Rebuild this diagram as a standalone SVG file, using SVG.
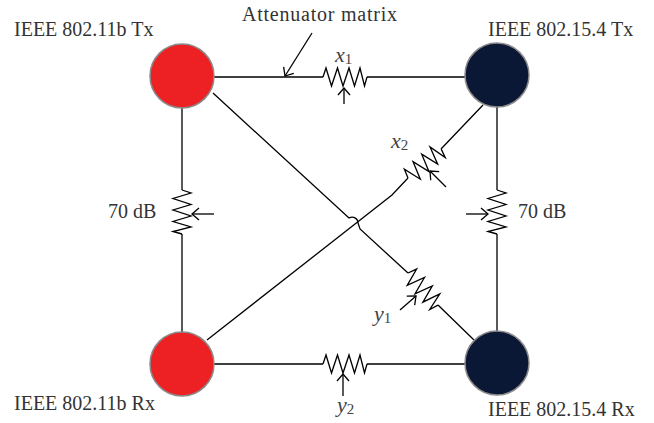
<svg xmlns="http://www.w3.org/2000/svg" xmlns:xlink="http://www.w3.org/1999/xlink" width="654" height="423" viewBox="0 0 654 423">
<style>
.lbl{font-family:"Liberation Serif","Times New Roman",serif;font-size:20px;fill:#333}
.var{font-family:"Liberation Serif","Times New Roman",serif;font-size:22px;fill:#444;font-style:italic}
.sub{font-style:normal;font-size:15px}
.w{fill:none;stroke:#000;stroke-width:1.3;stroke-linejoin:miter}
.ar{fill:none;stroke:#000;stroke-width:1.3;marker-end:url(#ah)}
.red{fill:#ED2024;stroke:#8a8a8a;stroke-width:1.5}
.navy{fill:#0A1735;stroke:#8a8a8a;stroke-width:1.5}
</style>
<defs>
<marker id="ah" viewBox="0 0 14 14" refX="13" refY="7" markerWidth="14" markerHeight="14" markerUnits="userSpaceOnUse" orient="auto">
<path d="M6,1 L13,7 L6,13" fill="none" stroke="#000" stroke-width="1.3"/>
</marker>
<path id="res" class="w" d="M0,0 L3,-9 L8.5,9 L14.5,-9 L20,9 L26,-9 L31.5,9 L37,-9 L41.5,9 L44,0"/>
</defs>

<g id="connectors">
<path class="w" d="M214,77 L323,77 M367,77 L465,77"/>
<use xlink:href="#res" transform="translate(323,77)"/>
<line class="ar" x1="344" y1="104" x2="344" y2="88"/>
<path class="w" d="M214,364 L323,364 M367,364 L465,364"/>
<use xlink:href="#res" transform="translate(323,364)"/>
<line class="ar" x1="343" y1="396" x2="343" y2="374"/>
<path class="w" d="M182,108 L182,190 M182,234 L182,332"/>
<use xlink:href="#res" transform="translate(182,190) rotate(90)"/>
<line class="ar" x1="214" y1="214" x2="192" y2="214"/>
<path class="w" d="M497,107 L497,190 M497,234 L497,331"/>
<use xlink:href="#res" transform="translate(497,190) rotate(90)"/>
<line class="ar" x1="466" y1="214" x2="488" y2="214"/>
<path class="w" d="M207,340 L392,195 L408,178 M441,149 L483,105"/>
<use xlink:href="#res" transform="translate(408,178) rotate(-41)"/>
<line class="ar" x1="446" y1="187" x2="430" y2="171"/>
<path class="w" d="M213,93 L349,218 C353,216 358,218 358,223 L360,229 L408,273 M438,305 L474,340"/>
<use xlink:href="#res" transform="translate(408,273) rotate(47)"/>
<line class="ar" x1="400" y1="310" x2="416" y2="296"/>
<line class="ar" x1="312" y1="33" x2="285" y2="76"/>
</g>

<g id="tx11b">
<circle class="red" cx="182" cy="76" r="32"/>
<text class="lbl" x="14" y="36">IEEE 802.11b Tx</text>
</g>
<g id="tx154">
<circle class="navy" cx="497" cy="75" r="32"/>
<text class="lbl" x="488" y="36">IEEE 802.15.4 Tx</text>
</g>
<g id="rx11b">
<circle class="red" cx="182" cy="364" r="32"/>
<text class="lbl" x="14" y="410">IEEE 802.11b Rx</text>
</g>
<g id="rx154">
<circle class="navy" cx="497" cy="363" r="32"/>
<text class="lbl" x="488" y="416">IEEE 802.15.4 Rx</text>
</g>

<g id="labels">
<text class="lbl" x="242" y="21" textLength="155">Attenuator matrix</text>
<text class="lbl" x="108" y="218">70 dB</text>
<text class="lbl" x="518" y="218">70 dB</text>
<text class="var" x="335" y="62">x<tspan class="sub" dy="2">1</tspan></text>
<text class="var" x="391" y="148">x<tspan class="sub" dy="2">2</tspan></text>
<text class="var" x="374" y="321">y<tspan class="sub" dy="2">1</tspan></text>
<text class="var" x="337" y="412">y<tspan class="sub" dy="2">2</tspan></text>
</g>
</svg>
